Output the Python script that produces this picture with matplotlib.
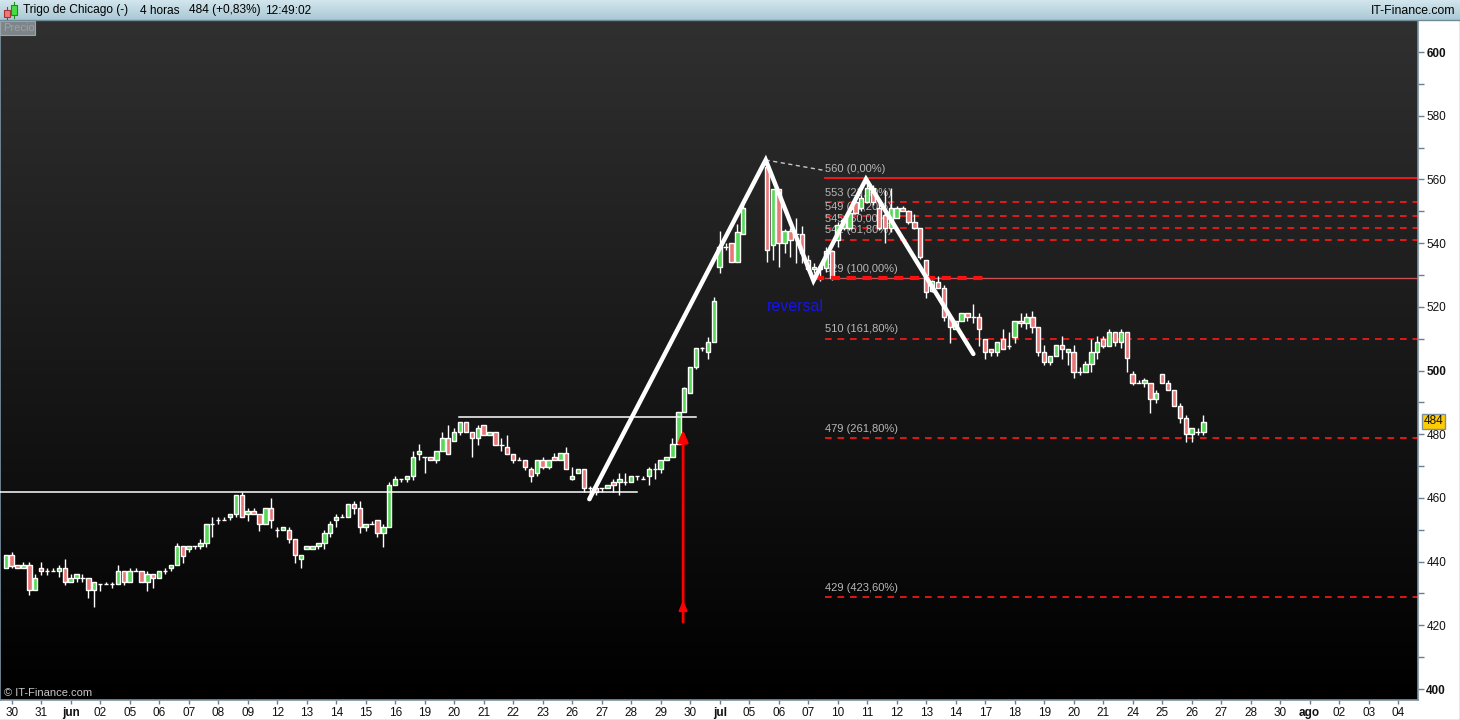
import numpy as np
import matplotlib
matplotlib.use("Agg")
import matplotlib.pyplot as plt
from matplotlib.patches import Rectangle
from matplotlib.colors import LinearSegmentedColormap

plt.rcParams['font.family'] = ['Liberation Sans', 'DejaVu Sans']

# ---------------- data (4-hour candles; None = slot hidden / no bar) ----------------
opens = [437.9, 442.0, 438.8, 437.9, 438.8, 431.0, 437.9, 437.0, 437.0, 437.0,
         437.9, 433.7, 434.8, 434.8, 434.8, 431.0, 432.9, 432.9, 432.9, 432.9,
         437.0, 433.7, 437.0, 437.0, 433.7, 436.0, 434.8, 437.0, 437.9, 438.8,
         444.9, 443.9, 444.9, 444.9, 445.7, 451.7, 453.0, 453.0, 453.9, 454.8,
         460.8, 454.8, 455.8, 454.8, 451.7, 456.7, 449.8, 449.8, 449.8, 447.0,
         440.7, 444.0, 444.0, 444.9, 445.7, 448.9, 453.0, 453.9, 453.9, 458.0,
         456.7, 450.8, 451.7, 453.0, 448.9, 450.8, 464.0, 465.8, 465.8, 466.8,
         473.9, 472.7, 472.7, 471.8, 474.8, 478.7, 477.8, 480.8, 483.7, 480.8,
         478.7, 482.9, 479.9, 480.8, 476.7, 475.9, 473.9, 471.8, 471.8, 469.0,
         467.7, 471.8, 469.8, 472.7, 471.8, 474.0, 465.8, 467.7, 469.0, 463.0,
         463.0, 463.0, 463.0, 464.9, 464.9, 464.9, 464.9, 466.8, 465.8, 466.8,
         469.0, 469.0, 471.8, 472.7, 476.8, 486.9, 492.8, 501.0, 507.0, 505.7,
         508.8, 532.6, 538.9, 539.9, 534.0, 542.8, None, None, None, 564.0,
         539.4, 556.9, 539.9, 543.8, 542.8, 542.8, 534.7, 531.8, 532.6, 532.1,
         537.6, 541.0, 544.8, 544.8, 553.0, 550.9, 553.0, 557.2, 550.9, 548.8,
         544.6, 547.8, 550.9, 550.1, 546.7, 544.8, 534.7, 525.0, 527.9, 525.8,
         516.7, 512.9, 515.6, 517.9, 516.7, 516.7, 509.8, 506.9, 505.7, 509.8,
         507.8, 510.6, 515.6, 514.8, 516.7, 513.8, 505.7, 502.8, 504.6, 508.0,
         505.7, 505.7, 499.6, 499.6, 501.9, 505.7, 509.8, 507.8, 512.0, 508.8,
         512.0, 498.8, 496.0, 496.0, 496.0, 490.9, 498.8, 496.0, 493.9, 488.8,
         485.0, 480.0, 480.8, 480.8]
highs = [442.0, 443.0, 438.8, 439.8, 439.8, 436.1, 439.8, 437.9, 437.9, 438.9,
         440.8, 436.1, 436.0, 436.1, 434.8, 433.7, 432.9, 433.7, 433.7, 438.9,
         437.0, 437.9, 437.9, 437.0, 437.0, 436.0, 437.0, 437.9, 438.8, 445.7,
         444.9, 444.9, 444.9, 447.0, 451.7, 453.9, 453.9, 453.9, 454.8, 460.8,
         461.8, 456.7, 456.7, 454.8, 456.7, 460.0, 450.8, 450.8, 450.8, 447.0,
         442.0, 444.9, 444.9, 445.7, 449.8, 452.9, 454.8, 454.8, 458.0, 458.9,
         458.9, 451.7, 452.9, 453.0, 451.7, 464.9, 466.8, 465.8, 466.8, 474.8,
         476.8, 472.7, 472.7, 474.8, 480.8, 482.9, 481.8, 483.7, 483.7, 480.8,
         482.9, 482.9, 480.8, 480.8, 478.7, 479.9, 473.9, 472.7, 471.8, 469.8,
         471.8, 472.7, 471.8, 474.0, 474.0, 475.9, 469.8, 469.0, 469.0, 463.7,
         463.7, 463.0, 464.0, 465.8, 467.7, 467.7, 466.8, 466.8, 466.8, 469.8,
         470.9, 471.8, 472.7, 478.7, 486.9, 494.8, 501.0, 507.0, 507.5, 510.6,
         523.2, 543.8, 539.9, 539.9, 546.0, 553.7, None, None, None, 566.1,
         556.9, 556.9, 544.5, 544.8, 547.8, 545.4, 536.3, 533.6, 532.6, 538.9,
         537.8, 546.7, 548.5, 550.4, 554.0, 555.0, 560.4, 558.2, 554.1, 556.7,
         557.2, 551.5, 551.5, 550.5, 549.0, 544.8, 534.7, 528.4, 529.7, 526.8,
         516.7, 515.6, 517.9, 517.9, 520.9, 517.9, 509.8, 506.9, 508.8, 512.9,
         512.0, 515.6, 517.9, 517.9, 518.8, 513.8, 508.0, 504.6, 508.0, 510.8,
         506.9, 508.0, 501.0, 503.0, 509.8, 510.8, 510.8, 512.9, 512.0, 512.9,
         512.0, 499.8, 497.0, 497.8, 496.0, 493.9, 498.8, 497.0, 493.9, 489.7,
         486.0, 481.8, 481.8, 486.0]
lows = [437.9, 437.9, 437.9, 437.9, 429.5, 431.0, 435.9, 435.9, 437.0, 435.1,
        432.8, 433.7, 433.7, 433.7, 428.7, 425.9, 430.9, 432.9, 431.8, 432.9,
        432.8, 433.7, 437.0, 433.7, 430.9, 431.8, 434.8, 436.0, 437.0, 438.8,
        439.7, 442.9, 443.9, 443.9, 444.7, 447.8, 451.7, 453.0, 453.0, 453.9,
        453.9, 452.9, 454.8, 449.7, 451.7, 450.7, 447.8, 449.8, 445.7, 439.7,
        437.9, 444.0, 444.0, 443.9, 443.9, 447.8, 450.8, 453.9, 453.9, 454.8,
        448.9, 449.7, 451.7, 447.8, 444.7, 450.8, 464.0, 464.9, 464.9, 465.6,
        471.8, 467.7, 471.8, 470.9, 474.8, 473.9, 477.8, 479.8, 480.8, 472.7,
        476.7, 479.8, 479.9, 476.7, 474.8, 473.9, 470.9, 471.8, 468.8, 464.9,
        466.8, 469.0, 469.0, 471.8, 471.8, 469.0, 465.6, 467.7, 462.0, 459.5,
        460.9, 462.0, 463.0, 462.0, 460.8, 464.0, 464.9, 465.6, 465.8, 464.0,
        465.8, 467.7, 471.8, 472.7, 476.8, 486.9, 492.8, 500.5, 506.0, 503.6,
        508.8, 530.7, 537.8, 534.0, 534.0, 542.8, None, None, None, 534.0,
        534.7, 532.6, 536.8, 535.7, 533.9, 533.9, 531.8, 530.7, 528.2, 531.0,
        528.4, 538.9, 544.0, 544.0, 549.0, 550.0, 553.0, 552.0, 544.0, 539.9,
        543.6, 547.8, 550.0, 546.0, 544.5, 535.0, 522.9, 524.7, 525.8, 515.6,
        508.7, 512.9, 515.6, 515.6, 514.8, 507.8, 503.7, 504.6, 504.6, 506.9,
        506.9, 508.7, 513.8, 512.9, 511.9, 504.6, 501.8, 501.8, 504.6, 503.7,
        501.8, 497.7, 498.6, 499.6, 499.6, 503.7, 507.0, 507.8, 507.8, 507.0,
        499.6, 495.5, 496.0, 494.9, 486.8, 489.7, 496.0, 493.9, 488.8, 483.6,
        477.7, 477.7, 479.7, 479.7]
closes = [442.0, 438.7, 437.9, 438.8, 431.0, 434.8, 437.0, 437.0, 437.0, 437.9,
          433.7, 434.8, 436.0, 434.8, 431.0, 433.7, 432.9, 432.9, 432.9, 437.0,
          433.7, 437.0, 437.0, 433.7, 436.0, 434.8, 437.0, 437.0, 438.8, 444.9,
          441.9, 444.9, 444.9, 445.7, 451.7, 451.7, 453.0, 453.0, 454.8, 460.8,
          453.9, 455.8, 454.8, 451.7, 456.7, 453.0, 449.8, 450.8, 447.0, 442.0,
          442.0, 444.9, 444.9, 445.7, 448.9, 451.7, 453.9, 453.9, 458.0, 456.7,
          450.8, 451.7, 451.7, 448.9, 450.8, 464.0, 465.8, 465.8, 466.8, 472.7,
          474.8, 472.7, 471.8, 474.8, 478.7, 473.9, 480.8, 483.7, 480.8, 478.7,
          481.8, 479.8, 480.8, 476.7, 476.7, 473.9, 471.8, 471.8, 469.8, 466.8,
          471.8, 469.8, 471.8, 471.8, 474.0, 469.0, 466.8, 469.0, 463.0, 463.0,
          462.0, 463.0, 464.0, 464.0, 465.8, 464.9, 466.8, 466.8, 465.8, 469.0,
          469.0, 471.8, 472.7, 476.8, 486.9, 494.4, 501.0, 507.0, 507.0, 508.8,
          521.8, 538.9, 538.9, 534.0, 543.6, 550.9, None, None, None, 537.8,
          556.9, 539.9, 543.8, 541.0, 542.8, 536.8, 531.8, 532.6, 531.8, 537.6,
          528.9, 545.7, 547.3, 549.3, 549.3, 554.1, 557.2, 553.0, 544.8, 544.6,
          550.9, 550.9, 550.1, 546.7, 544.8, 535.7, 524.7, 528.0, 525.8, 516.7,
          513.8, 515.6, 517.9, 516.7, 516.7, 512.9, 505.7, 505.7, 508.8, 506.9,
          507.8, 515.6, 514.8, 516.7, 513.8, 505.7, 502.8, 504.6, 508.0, 506.9,
          506.9, 499.6, 499.6, 501.9, 505.7, 508.8, 507.8, 512.0, 508.8, 512.0,
          503.8, 496.0, 496.0, 497.0, 490.9, 492.8, 496.0, 493.9, 488.8, 485.0,
          480.0, 481.8, 480.8, 483.7]

day_labels = ["30", "31", "jun", "02", "05", "06", "07", "08", "09", "12", "13", "14",
              "15", "16", "19", "20", "21", "22", "23", "26", "27", "28", "29", "30",
              "jul", "05", "06", "07", "10", "11", "12", "13", "14", "17", "18", "19",
              "20", "21", "24", "25", "26", "27", "28", "30", "ago", "02", "03", "04"]
month_labels = ["jun", "jul", "ago"]
bars_per_day = 5
last_price = 484

fib_levels = [560.4, 552.9, 548.4, 544.7, 541.1, 529.0, 510.0, 478.7, 428.9]
fib_texts = ["560 (0,00%)", "553 (23,60%)", "549 (38,20%)", "545 (50,00%)",
             "541 (61,80%)", "529 (100,00%)", "510 (161,80%)", "479 (261,80%)",
             "429 (423,60%)"]

# drawing objects (candle-index, price)
zigzag_x = [98.9, 128.8, 136.9, 145.8, 164.0]
zigzag_y = [459.6, 566.1, 528.2, 560.1, 505.2]
support_line = (-1.0, 107.0, 461.8)
resist_line = (76.8, 117.0, 485.3)

# ---------------- figure ----------------
W, H = 1460, 720
fig = plt.figure(figsize=(W / 100, H / 100), dpi=100)
fig.patch.set_facecolor("#ffffff")


def px_axes(x0, y0, x1, y1, **kw):
    return fig.add_axes([x0 / W, 1 - y1 / H, (x1 - x0) / W, (y1 - y0) / H], **kw)


ax = px_axes(0, 20, 1418, 700)
xmin, xmax = -0.98, 239.36
ymin, ymax = 396.55, 610.05
ax.set_xlim(xmin, xmax)
ax.set_ylim(ymin, ymax)

# background gradient
cmap = LinearSegmentedColormap.from_list("bg", ["#000000", "#303030"])
grad = np.linspace(0, 1, 256).reshape(-1, 1)
ax.imshow(grad, extent=[xmin, xmax, ymin, ymax], origin="lower", aspect="auto",
          cmap=cmap, zorder=0, interpolation="bilinear")

# candles
valid = np.array([v is not None for v in opens])
idx = np.arange(len(opens))[valid]
o = np.array([v for v in opens if v is not None])
c = np.array([v for v in closes if v is not None])
hi = np.array([v for v in highs if v is not None])
lo = np.array([v for v in lows if v is not None])
up = c >= o
ax.vlines(idx, lo, hi, color="white", lw=1.0, zorder=3)
body_col = np.where(up, "#57d957", "#e87878")
ax.bar(idx, c - o, bottom=o, width=0.74, color=body_col, edgecolor="white",
       linewidth=1.0, zorder=4)

# horizontal support / resistance lines
ax.plot([support_line[0], support_line[1]], [support_line[2]] * 2, color="white", lw=1.1, zorder=5)
ax.plot([resist_line[0], resist_line[1]], [resist_line[2]] * 2, color="white", lw=1.1, zorder=5)

# fibonacci levels
fib_x0 = 138.8
for lvl, txt in zip(fib_levels, fib_texts):
    if txt.startswith("560"):
        ax.plot([fib_x0, xmax], [lvl, lvl], color="#ff1a1a", lw=1.3, zorder=2)
    elif txt.startswith("529"):
        ax.plot([fib_x0, xmax], [lvl, lvl], color="#c85050", lw=1.0, zorder=2)
    else:
        ax.plot([fib_x0, xmax], [lvl, lvl], color="#ff1a1a", lw=1.2,
                dashes=(4, 3.5), zorder=2)
    ax.text(fib_x0, lvl + 1.4, txt, color="#b8b8b8", fontsize=8, ha="left",
            va="bottom", zorder=2)
# neckline thick dashed
ax.plot([137.2, 166.0], [529.0, 529.0], color="#ff1010", lw=3.0, dashes=(2.2, 1.6), zorder=5)
# dashed connector from top
ax.plot([128.8, 139.1], [566.1, 562.7], color="#c8c8c8", lw=1.0, dashes=(3, 2.5), zorder=5)

# zigzag
ax.plot(zigzag_x, zigzag_y, color="white", lw=3.2, zorder=6, solid_capstyle="round",
        solid_joinstyle="miter")

ax.text(133.9, 520.0, "reversal", color="#1414f0", fontsize=11.5, ha="center",
        va="center", zorder=6)

# red arrow
ax.annotate("", xy=(114.8, 482.2), xytext=(114.8, 420.1),
            arrowprops=dict(arrowstyle="-|>,head_length=0.7,head_width=0.3",
                            color="#ff0000", lw=2.0), zorder=7)
ax.annotate("", xy=(114.8, 428.8), xytext=(114.8, 424.0),
            arrowprops=dict(arrowstyle="-|>,head_length=0.6,head_width=0.25",
                            color="#ff0000", lw=1.5), zorder=7)

ax.text(0.003, 0.003, "\u00a9 IT-Finance.com", transform=ax.transAxes,
        color="#c8c8c8", fontsize=8, ha="left", va="bottom", zorder=8)

# axes styling
ax.yaxis.tick_right()
ax.set_yticks(np.arange(400, 601, 20))
ax.set_yticks(np.arange(410, 601, 20), minor=True)
ax.tick_params(axis="y", which="both", direction="out", length=4, width=1,
               color="#6a7f8f", labelsize=8.5, labelcolor="#111111", pad=2)
for lab in ax.get_yticklabels():
    if lab.get_text() in ("600", "500", "400"):
        lab.set_fontweight("bold")

tick_pos = [bars_per_day * k + 1 for k in range(len(day_labels))]
ax.set_xticks(tick_pos)
ax.set_xticklabels(day_labels)
ax.tick_params(axis="x", direction="out", length=3, width=1, color="#6a7f8f",
               labelsize=8.5, labelcolor="#111111", pad=2)
for lab in ax.get_xticklabels():
    if lab.get_text() in month_labels:
        lab.set_fontweight("bold")
for s in ("top",):
    ax.spines[s].set_visible(False)
for s in ("left", "right", "bottom"):
    ax.spines[s].set_color("#7d93a3")
    ax.spines[s].set_linewidth(1.2)

# last price box
ax.annotate(str(last_price), xy=(1.0, last_price), xycoords=("axes fraction", "data"),
            xytext=(4, 0), textcoords="offset points", fontsize=8.5, color="#111111",
            va="center", ha="left", annotation_clip=False,
            bbox=dict(boxstyle="square,pad=0.15", fc="#ffcc00", ec="#7d8f9c", lw=1))

# ---------------- overlay: title bar etc ----------------
ov = fig.add_axes([0, 0, 1, 1], zorder=10)
ov.set_xlim(0, W); ov.set_ylim(H, 0); ov.axis("off"); ov.patch.set_alpha(0)
tb = LinearSegmentedColormap.from_list("tb", ["#d3e6ee", "#a9c8d5"])
ov.imshow(np.linspace(0, 1, 64).reshape(-1, 1), extent=[0, W, 20, 0], aspect="auto",
          cmap=tb, zorder=1)
ov.plot([0, W], [20, 20], color="#6e8a99", lw=1, zorder=2)
# icon
ov.add_patch(Rectangle((3.5, 10), 6, 7, fc="#ee7777", ec="#aa3333", lw=0.8, zorder=3))
ov.plot([6.5, 6.5], [7, 19], color="#aa3333", lw=0.8, zorder=2)
ov.add_patch(Rectangle((11, 5), 6, 10, fc="#44dd44", ec="#228822", lw=0.8, zorder=3))
ov.plot([14, 14], [2, 18], color="#228822", lw=0.8, zorder=2)
for xt, s in [(23, "Trigo de Chicago (-)"), (140, "4 horas"), (189, "484 (+0,83%)"),
              (265, "12:49:02")]:
    ov.text(xt, 10.5, s, fontsize=8.6, color="#000000", ha="left", va="center", zorder=3)
ov.text(1456, 10.5, "IT-Finance.com", fontsize=8.8, color="#000000", ha="right",
        va="center", zorder=3)
# Precio tab
ov.add_patch(Rectangle((0, 20.5), 35, 14, fc="#7d8589", ec="#9aa4aa", lw=0.8, zorder=3))
ov.text(3, 28, "Precio", fontsize=8, color="#9aa3a8", ha="left", va="center", zorder=4)
# bottom strip border
ov.plot([0, W], [719.5, 719.5], color="#7d93a3", lw=1, zorder=2)
ov.plot([W - 0.5, W - 0.5], [20, 720], color="#7d93a3", lw=1, zorder=2)

fig.savefig("out.png", dpi=100, facecolor=fig.get_facecolor())
